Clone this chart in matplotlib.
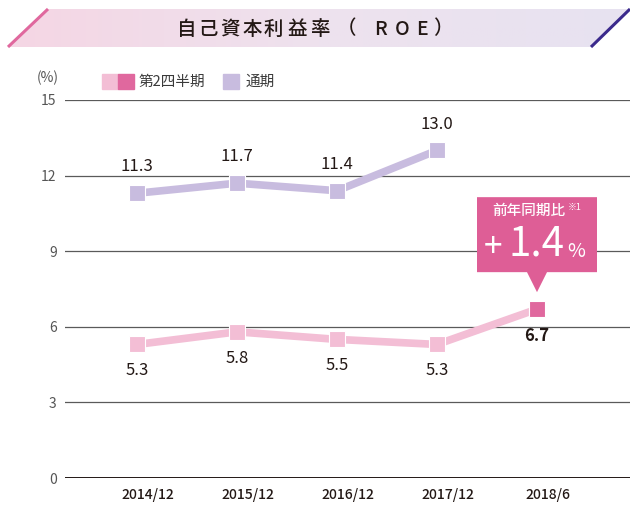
import numpy as np
import matplotlib
matplotlib.use('Agg')
import matplotlib.pyplot as plt
import matplotlib.transforms as mtransforms
from matplotlib.patches import Polygon, Rectangle
from matplotlib.colors import LinearSegmentedColormap

plt.rcParams['font.family'] = ['Noto Sans CJK JP', 'DejaVu Sans']

# ── Data ─────────────────────────────────────────────────────────────────────
periods   = ["2014/12", "2015/12", "2016/12", "2017/12", "2018/6"]
q2_vals   = [5.3, 5.8, 5.5, 5.3, 6.7]      # 第2四半期
full_vals = [11.3, 11.7, 11.4, 13.0]       # 通期
yticks    = [0, 3, 6, 9, 12, 15]
change    = "1.4"

PINK_LIGHT = "#F3BED5"
PINK_DARK  = "#E0689E"
LAVENDER   = "#C8BCDF"
CALLOUT    = "#DE5E96"

W, H = 630, 509
fig = plt.figure(figsize=(W / 100, H / 100), dpi=100)


def fx(x):
    return x / W


def fy(y):
    return 1 - y / H


# ── Title banner ─────────────────────────────────────────────────────────────
bg = fig.add_axes([0, 0, 1, 1], zorder=0)
bg.set_xlim(0, W)
bg.set_ylim(H, 0)
bg.axis('off')

grad = LinearSegmentedColormap.from_list("banner", ["#F5D6E4", "#EEE2EE", "#E7E2F1"])
img = bg.imshow(np.linspace(0, 1, 256).reshape(1, -1), cmap=grad, aspect='auto',
                extent=[8, 630, 47, 9], zorder=1)
clip = Polygon([(8, 47), (48, 9), (630, 9), (591, 47)], closed=True,
               facecolor='none', edgecolor='none', transform=bg.transData)
bg.add_patch(clip)
img.set_clip_path(clip)
bg.plot([8, 48], [47, 9], color=PINK_DARK, lw=2.2, solid_capstyle='butt', zorder=2)
bg.plot([591, 630], [47, 9], color="#3B2A8C", lw=2.2, solid_capstyle='butt', zorder=2)

title_chars = list("自己資本利益率（ROE）")
title_pos = [187, 208, 230, 252, 273, 297, 320, 347, 380, 402, 422, 443]
for ch, xp in zip(title_chars, title_pos):
    bg.text(xp, 29, ch, fontsize=14, color="#231815", ha='center', va='center',
            fontweight='medium', zorder=3)

# ── Legend ───────────────────────────────────────────────────────────────────
bg.add_patch(Rectangle((102, 74), 16, 15, color=PINK_LIGHT, zorder=2))
bg.add_patch(Rectangle((118, 74), 16, 15, color=PINK_DARK, zorder=2))
bg.text(139, 81.5, "第2四半期", fontsize=10.5, color="#3a3a3a", va='center', ha='left')
bg.add_patch(Rectangle((223, 74), 16, 15, color=LAVENDER, zorder=2))
bg.text(246, 81.5, "通期", fontsize=10.5, color="#3a3a3a", va='center', ha='left')
bg.text(48, 78, "(%)", fontsize=10, color="#555555", va='center', ha='center')

# ── Main axes ────────────────────────────────────────────────────────────────
ax = fig.add_axes([fx(65), fy(478), fx(565), 378 / H], zorder=2)
ax.patch.set_alpha(0)
x = np.arange(len(periods))
ax.set_xlim(-0.72, 4.93)
ax.set_ylim(0, 15)
for s in ax.spines.values():
    s.set_visible(False)
ax.set_yticks(yticks)
ax.set_yticklabels([str(v) for v in yticks], fontsize=10, color="#555555")
ax.tick_params(axis='y', length=0, pad=6)
ax.set_xticks(x)
ax.set_xticklabels(periods, fontsize=10, color="#231815", fontweight='medium')
ax.tick_params(axis='x', length=0, pad=7)
offset = mtransforms.ScaledTranslation(11 / 100, 0, fig.dpi_scale_trans)
for lbl in ax.get_xticklabels():
    lbl.set_transform(lbl.get_transform() + offset)

for v in yticks:
    ax.axhline(v, color="#231815" if v == 0 else "#5a5a5a",
               lw=1.4 if v == 0 else 0.9, zorder=1)

xf = np.arange(len(full_vals))
ax.plot(xf, full_vals, color=LAVENDER, lw=5.5, zorder=3,
        marker='s', markersize=12, markerfacecolor=LAVENDER,
        markeredgecolor='white', markeredgewidth=0.8)
ax.plot(x, q2_vals, color=PINK_LIGHT, lw=5.5, zorder=3,
        marker='s', markersize=12, markerfacecolor=PINK_LIGHT,
        markeredgecolor='white', markeredgewidth=0.8)
ax.plot(x[-1], q2_vals[-1], marker='s', markersize=12, color=PINK_DARK,
        markeredgecolor='white', markeredgewidth=0.8, zorder=4, linestyle='none')

for xi, v in zip(xf, full_vals):
    ax.annotate(f"{v:.1f}", (xi, v), xytext=(0, 19), textcoords='offset points',
                ha='center', va='center', fontsize=12, color="#231815")
for xi, v in zip(x, q2_vals):
    last = xi == x[-1]
    ax.annotate(f"{v:.1f}", (xi, v), xytext=(0, -19), textcoords='offset points',
                ha='center', va='center', fontsize=12, color="#231815",
                fontweight='bold' if last else 'normal')

# ── Callout above last point ─────────────────────────────────────────────────
tr = fig.dpi_scale_trans + mtransforms.ScaledTranslation(x[-1], q2_vals[-1], ax.transData)
callout = Polygon([(-0.60, 0.37), (-0.10, 0.37), (0, 0.17), (0.10, 0.37),
                   (0.60, 0.37), (0.60, 1.12), (-0.60, 1.12)], closed=True,
                  facecolor=CALLOUT, edgecolor='none', transform=tr, zorder=5,
                  clip_on=False)
ax.add_patch(callout)
ax.text(-0.08, 0.98, "前年同期比", transform=tr, ha='center', va='center',
        fontsize=10.5, color='white', zorder=6, fontweight='medium')
ax.text(0.31, 1.02, "※1", transform=tr, ha='left', va='center',
        fontsize=6.5, color='white', zorder=6)
ax.text(-0.44, 0.62, "+", transform=tr, ha='center', va='center',
        fontsize=24, color='white', zorder=6)
ax.text(0.0, 0.65, change, transform=tr, ha='center', va='center',
        fontsize=29, color='white', zorder=6)
ax.text(0.39, 0.58, "%", transform=tr, ha='center', va='center',
        fontsize=14, color='white', zorder=6)

fig.savefig("out.png", dpi=100)
